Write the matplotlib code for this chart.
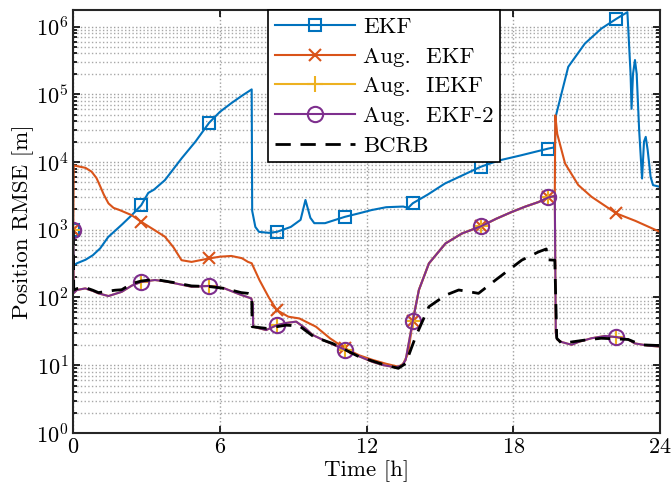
import numpy as np
import matplotlib
matplotlib.use("Agg")
import matplotlib.pyplot as plt
from matplotlib.ticker import LogLocator, NullFormatter, FixedLocator

plt.rcParams['font.family'] = 'serif'
plt.rcParams['font.serif'] = ['cmr10']
plt.rcParams['mathtext.fontset'] = 'cm'
plt.rcParams['axes.formatter.use_mathtext'] = True

# marker instants (every 10000 s)
t_mark = [0, 2.78, 5.56, 8.33, 11.11, 13.89, 16.67, 19.44, 22.22]

ekf_t = [0, 0.03, 0.15, 0.5, 0.8, 1.1, 1.43, 2.0, 2.4, 2.78, 3.07, 3.3, 3.75, 4.44, 5.0, 5.56,
         6.0, 6.47, 6.9, 7.3, 7.32, 7.45, 7.6, 8.0, 8.33, 8.9, 9.3, 9.5, 9.7, 9.86,
         10.3, 11.11, 11.7, 12.2, 12.8, 13.5, 13.7, 13.89, 14.5, 15.2, 15.9, 16.67,
         17.4, 18.3, 19.44, 19.7, 19.75, 20.25, 20.93, 21.6, 22.22, 22.67, 22.8, 22.84,
         22.9, 22.98, 23.05, 23.15, 23.27, 23.35, 23.42, 23.5, 23.62, 23.72, 24.0]
ekf_v = [1000, 300, 320, 360, 420, 530, 780, 1200, 1650, 2300, 3500, 3900, 5400, 11400, 20000, 38000,
         55000, 74000, 95000, 118000, 1900, 1100, 930, 900, 930, 1100, 1400, 2750, 1500, 1250,
         1250, 1550, 1750, 1950, 2150, 2200, 2100, 2460, 3300, 4800, 6300, 8500,
         10500, 12500, 15800, 16500, 49000, 254000, 560000, 930000, 1.3e6, 1.63e6, 2e5, 61000,
         2e5, 3.2e5, 2e5, 3e4, 5700, 2e4, 23500, 1.5e4, 6000, 4550, 4300]

aekf_t = [0, 0.02, 0.15, 0.5, 0.75, 0.95, 1.1, 1.25, 1.44, 1.65, 1.9, 2.39, 2.78, 3.3, 3.75, 4.1,
          4.43, 4.84, 5.56, 6.0, 6.47, 6.9, 7.15, 7.3, 7.62, 8.0, 8.33, 8.8, 9.25, 9.93,
          10.5, 11.11, 11.7, 12.24, 12.8, 13.3, 13.5, 13.7, 13.89, 14.14, 14.55, 15.23,
          15.9, 16.67, 17.3, 17.94, 18.5, 19.03, 19.44, 19.7, 19.72, 19.8, 20.12, 20.66,
          21.2, 22.22, 23.0, 24.0]
aekf_v = [1000, 8900, 8700, 8200, 7200, 5800, 4400, 3300, 2450, 2100, 1950, 1640, 1310, 1000, 790, 550,
          355, 335, 377, 400, 410, 380, 335, 320, 180, 100, 65, 52, 49, 37,
          25, 17.8, 14, 12, 10.5, 9.5, 10.5, 15, 45, 129, 318, 628,
          880, 1120, 1450, 1830, 2200, 2560, 3000, 3150, 49000, 26000, 9500, 4570,
          3070, 1740, 1350, 930]

ekf2_t = [0, 0.02, 0.15, 0.49, 0.8, 1.03, 1.44, 1.98, 2.4, 2.78, 3.34, 3.8, 4.16, 4.84,
          5.56, 6.19, 6.87, 7.28, 7.35, 7.36, 7.89, 8.33, 8.7, 9.12, 9.5, 9.79, 10.4,
          11.11, 11.7, 12.24, 12.7, 13.19, 13.46, 13.6, 13.89, 14.14, 14.55, 15.23, 15.9,
          16.67, 17.3, 17.94, 18.5, 19.03, 19.44, 19.7, 19.74, 19.8, 19.98, 20.39, 20.66,
          21.2, 21.75, 22.22, 22.7, 22.97, 23.5, 24.0]
ekf2_v = [1000, 116, 129, 136, 125, 115, 105, 121, 150, 170, 181, 172, 162, 144,
          148, 136, 109, 97, 80, 37, 33, 39, 42, 44, 35, 28, 22,
          17, 13.5, 11.2, 10, 9.3, 10, 12, 45, 129, 318, 628, 880,
          1120, 1450, 1830, 2200, 2560, 3000, 3150, 30, 24, 22, 20, 22,
          25, 27, 26, 24, 21, 19.5, 18.8]

# Aug. IEKF lies under Aug. EKF-2 everywhere
iekf_t = ekf2_t
iekf_v = ekf2_v

bcrb_t = [0, 0.02, 0.15, 0.49, 0.8, 1.03, 1.71, 1.98, 2.4, 2.78, 3.34, 4.16, 4.84, 5.56,
          6.19, 6.87, 7.15, 7.3, 7.32, 7.9, 8.33, 8.7, 9.25, 9.86, 10.6, 11.11, 11.7,
          12.78, 13.3, 13.6, 14.0, 14.55, 15.23, 15.77, 16.58, 17.27, 18.35, 19.03,
          19.35, 19.4, 19.7, 19.78, 19.98, 20.93, 21.6, 22.7, 23.24, 24.0]
bcrb_v = [1000, 128, 135, 140, 128, 118, 128, 130, 160, 175, 185, 165, 148, 145,
          136, 118, 115, 110, 37, 35, 37, 39, 38, 26, 21, 17, 13.3,
          10, 9, 10.6, 26, 73, 108, 129, 115, 180, 356, 470,
          520, 360, 355, 25, 21, 23.5, 25, 24, 20, 19.5]


def mark_idx(t):
    t = np.asarray(t)
    return [int(np.argmin(np.abs(t - m))) for m in t_mark]


fig, ax = plt.subplots(figsize=(6.72, 4.87), dpi=100)
fig.subplots_adjust(left=0.109, right=0.982, bottom=0.111, top=0.979)

ax.plot(ekf_t, ekf_v, '-s', color='#0072BD', lw=1.5, ms=9, mfc='none', mew=1.5,
        markevery=mark_idx(ekf_t), label='EKF')
ax.plot(aekf_t, aekf_v, '-x', color='#D95319', lw=1.5, ms=9, mew=1.5,
        markevery=mark_idx(aekf_t), label='Aug.  EKF')
ax.plot(iekf_t, iekf_v, '-+', color='#EDB120', lw=1.5, ms=11, mew=1.5,
        markevery=mark_idx(iekf_t), label='Aug.  IEKF')
ax.plot(ekf2_t, ekf2_v, '-o', color='#7E2F8E', lw=1.5, ms=11, mfc='none', mew=1.5,
        markevery=mark_idx(ekf2_t), label='Aug.  EKF-2')
ax.plot(bcrb_t, bcrb_v, color='black', lw=2, linestyle=(0, (5.5, 3.5)), label='BCRB')

ax.set_yscale('log')
ax.set_xlim(0, 24)
ax.set_ylim(1, 1.74e6)
ax.set_xticks([0, 6, 12, 18, 24])
ax.yaxis.set_major_locator(FixedLocator([1e0, 1e1, 1e2, 1e3, 1e4, 1e5, 1e6]))
ax.yaxis.set_minor_locator(LogLocator(base=10, subs=np.arange(2, 10), numticks=20))
ax.yaxis.set_minor_formatter(NullFormatter())

ax.grid(True, which='major', linestyle=':', color='#a0a0a0', lw=1)
ax.grid(True, which='minor', axis='y', linestyle=':', color='#a8a8a8', lw=1)
ax.tick_params(which='both', direction='in', top=True, right=True, labelsize=16, width=1.2)
ax.tick_params(which='major', length=5)
ax.tick_params(which='minor', length=3)
for s in ax.spines.values():
    s.set_linewidth(1.5)
    s.set_color('#262626')

ax.set_xlabel('Time [h]', fontsize=16.5, labelpad=2)
ax.set_ylabel('Position RMSE [m]', fontsize=16.5, labelpad=1)

leg = ax.legend(loc='upper left', bbox_to_anchor=(268 / 672, 477 / 487),
                bbox_transform=fig.transFigure, fontsize=16.5, handlelength=3.5,
                handletextpad=0.35, labelspacing=0.42, borderaxespad=0,
                borderpad=0.3, fancybox=False, framealpha=1, edgecolor='black')
leg.get_frame().set_linewidth(1.2)

fig.savefig('out.png', dpi=100)
